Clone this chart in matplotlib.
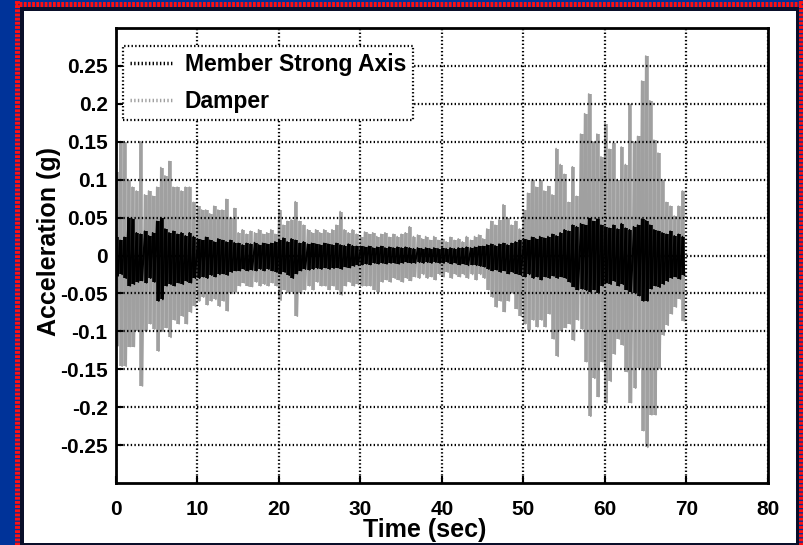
import matplotlib.pyplot as plt
import numpy as np
from matplotlib.lines import Line2D
from matplotlib.patches import Rectangle

plt.rcParams['font.family'] = ['Liberation Sans', 'DejaVu Sans']
plt.rcParams['font.weight'] = 'bold'
plt.rcParams['lines.scale_dashes'] = False

# bin start times (sec), one peak pair read per half second
time_bins = np.arange(0, 70, 0.5)

# Damper: upper / lower peaks in each half second bin (g)
damper_hi = [0.110, 0.150, 0.150, 0.100, 0.090, 0.085, 0.150, 0.080, 0.085, 0.078,
             0.090, 0.116, 0.105, 0.124, 0.090, 0.090, 0.085, 0.090, 0.090, 0.070,
             0.065, 0.060, 0.060, 0.055, 0.065, 0.060, 0.060, 0.074, 0.050, 0.062,
             0.030, 0.034, 0.028, 0.032, 0.030, 0.034, 0.028, 0.030, 0.034, 0.028,
             0.060, 0.040, 0.045, 0.047, 0.071, 0.045, 0.040, 0.034, 0.030, 0.034,
             0.030, 0.034, 0.030, 0.034, 0.040, 0.058, 0.034, 0.030, 0.034, 0.028,
             0.025, 0.031, 0.028, 0.030, 0.025, 0.028, 0.030, 0.024, 0.028, 0.025,
             0.028, 0.030, 0.038, 0.025, 0.027, 0.022, 0.025, 0.020, 0.025, 0.020,
             0.022, 0.018, 0.024, 0.020, 0.022, 0.018, 0.025, 0.020, 0.025, 0.027,
             0.022, 0.035, 0.045, 0.040, 0.047, 0.067, 0.050, 0.040, 0.045, 0.035,
             0.060, 0.082, 0.100, 0.090, 0.100, 0.085, 0.091, 0.080, 0.141, 0.120,
             0.107, 0.070, 0.117, 0.078, 0.160, 0.187, 0.213, 0.150, 0.160, 0.130,
             0.174, 0.140, 0.148, 0.100, 0.143, 0.120, 0.200, 0.150, 0.157, 0.230,
             0.263, 0.204, 0.152, 0.135, 0.100, 0.070, 0.065, 0.052, 0.065, 0.085]
damper_lo = [-0.119, -0.146, -0.146, -0.120, -0.120, -0.100, -0.172, -0.100, -0.090, -0.097,
             -0.126, -0.100, -0.095, -0.108, -0.085, -0.090, -0.080, -0.090, -0.075, -0.067,
             -0.060, -0.055, -0.065, -0.060, -0.058, -0.067, -0.060, -0.073, -0.050, -0.048,
             -0.040, -0.036, -0.040, -0.041, -0.035, -0.040, -0.038, -0.040, -0.036, -0.040,
             -0.059, -0.045, -0.050, -0.048, -0.080, -0.050, -0.045, -0.040, -0.045, -0.035,
             -0.040, -0.040, -0.045, -0.040, -0.045, -0.052, -0.040, -0.035, -0.040, -0.038,
             -0.040, -0.040, -0.040, -0.045, -0.048, -0.035, -0.032, -0.035, -0.030, -0.032,
             -0.035, -0.030, -0.033, -0.028, -0.030, -0.025, -0.030, -0.028, -0.032, -0.025,
             -0.028, -0.022, -0.030, -0.025, -0.028, -0.025, -0.030, -0.025, -0.032, -0.025,
             -0.030, -0.045, -0.055, -0.068, -0.060, -0.074, -0.060, -0.050, -0.070, -0.080,
             -0.090, -0.098, -0.085, -0.094, -0.085, -0.094, -0.077, -0.110, -0.133, -0.100,
             -0.095, -0.090, -0.112, -0.085, -0.097, -0.140, -0.212, -0.162, -0.186, -0.140,
             -0.194, -0.166, -0.130, -0.110, -0.118, -0.153, -0.194, -0.175, -0.149, -0.231,
             -0.253, -0.210, -0.210, -0.149, -0.105, -0.092, -0.077, -0.068, -0.057, -0.086]

# Member strong axis: upper / lower peaks (g)
member_hi = [0.025, 0.020, 0.024, 0.050, 0.048, 0.030, 0.028, 0.032, 0.026, 0.030,
             0.045, 0.050, 0.035, 0.030, 0.032, 0.028, 0.030, 0.026, 0.030, 0.025,
             0.022, 0.020, 0.024, 0.020, 0.018, 0.022, 0.020, 0.018, 0.020, 0.017,
             0.016, 0.014, 0.016, 0.015, 0.017, 0.014, 0.016, 0.015, 0.016, 0.018,
             0.020, 0.023, 0.018, 0.022, 0.020, 0.016, 0.018, 0.015, 0.016, 0.015,
             0.014, 0.016, 0.015, 0.014, 0.016, 0.014, 0.013, 0.015, 0.013, 0.012,
             0.012, 0.011, 0.012, 0.010, 0.011, 0.012, 0.010, 0.011, 0.010, 0.011,
             0.010, 0.011, 0.010, 0.009, 0.010, 0.009, 0.010, 0.009, 0.010, 0.009,
             0.010, 0.009, 0.010, 0.009, 0.010, 0.010, 0.011, 0.010, 0.011, 0.012,
             0.012, 0.014, 0.015, 0.013, 0.015, 0.016, 0.014, 0.016, 0.018, 0.020,
             0.022, 0.020, 0.024, 0.022, 0.025, 0.023, 0.025, 0.028, 0.026, 0.030,
             0.034, 0.032, 0.040, 0.038, 0.042, 0.040, 0.049, 0.045, 0.048, 0.040,
             0.038, 0.036, 0.040, 0.035, 0.042, 0.036, 0.034, 0.038, 0.040, 0.048,
             0.046, 0.040, 0.034, 0.032, 0.030, 0.028, 0.032, 0.026, 0.028, 0.025]
member_lo = [-0.027, -0.025, -0.030, -0.040, -0.038, -0.035, -0.033, -0.036, -0.030, -0.035,
             -0.060, -0.058, -0.040, -0.038, -0.040, -0.036, -0.038, -0.034, -0.036, -0.030,
             -0.030, -0.028, -0.030, -0.026, -0.028, -0.025, -0.024, -0.026, -0.022, -0.020,
             -0.020, -0.018, -0.020, -0.019, -0.020, -0.018, -0.020, -0.018, -0.020, -0.022,
             -0.024, -0.022, -0.026, -0.030, -0.024, -0.020, -0.018, -0.019, -0.018, -0.017,
             -0.018, -0.016, -0.018, -0.017, -0.016, -0.018, -0.015, -0.016, -0.014, -0.013,
             -0.012, -0.011, -0.012, -0.010, -0.011, -0.010, -0.011, -0.010, -0.010, -0.011,
             -0.010, -0.009, -0.010, -0.010, -0.009, -0.010, -0.009, -0.010, -0.009, -0.010,
             -0.010, -0.009, -0.011, -0.010, -0.012, -0.011, -0.013, -0.012, -0.013, -0.014,
             -0.015, -0.018, -0.020, -0.019, -0.022, -0.020, -0.024, -0.022, -0.024, -0.026,
             -0.028, -0.025, -0.030, -0.028, -0.032, -0.028, -0.030, -0.027, -0.030, -0.028,
             -0.030, -0.035, -0.041, -0.045, -0.044, -0.046, -0.048, -0.045, -0.049, -0.040,
             -0.036, -0.038, -0.034, -0.040, -0.038, -0.045, -0.048, -0.050, -0.053, -0.060,
             -0.060, -0.044, -0.040, -0.042, -0.038, -0.034, -0.030, -0.028, -0.031, -0.026]

x_ticks = [0, 10, 20, 30, 40, 50, 60, 70, 80]
y_ticks = [-0.25, -0.2, -0.15, -0.1, -0.05, 0, 0.05, 0.1, 0.15, 0.2, 0.25]
y_tick_labels = ['-0.25', '-0.2', '-0.15', '-0.1', '-0.05', '0', '0.05', '0.1', '0.15', '0.2', '0.25']


def zigzag(hi, lo):
    # peak then trough within each bin
    t = np.column_stack([time_bins, time_bins + 0.25]).ravel()
    y = np.column_stack([hi, lo]).ravel()
    return t, y


W, H = 804, 545
fig = plt.figure(figsize=(W / 100, H / 100), dpi=100)
fig.patch.set_facecolor('#003399')

# slide frame: dark edge, white panel, red dashed borders
fig.patches.append(Rectangle((20 / W, 0), 779 / W, 538 / H, transform=fig.transFigure,
                             facecolor='#0a0f2a', edgecolor='none', zorder=-3))
fig.patches.append(Rectangle((24 / W, 2 / H), 772 / W, 532 / H, transform=fig.transFigure,
                             facecolor='white', edgecolor='none', zorder=-2))
for xs, ys in [([15 / W, 1], [1 - 3.5 / H, 1 - 3.5 / H]),
               ([17 / W, 17 / W], [0, 1]),
               ([801.5 / W, 801.5 / W], [0, 1])]:
    fig.lines.append(Line2D(xs, ys, transform=fig.transFigure, color='#ff1010',
                            lw=3.6, dashes=(2.0, 1.0), zorder=-1))

ax = fig.add_axes([116 / W, 1 - 483 / H, 652 / W, 455 / H])

# dense record drawn as peak/trough strokes plus the swing of each bin
t_d, y_d = zigzag(damper_hi, damper_lo)
t_m, y_m = zigzag(member_hi, member_lo)
ax.vlines(time_bins + 0.125, damper_lo, damper_hi, color='#a0a0a0', lw=2.6)
ax.plot(t_d, y_d, color='#a0a0a0', lw=1.2)
ax.vlines(time_bins + 0.125, member_lo, member_hi, color='black', lw=2.6)
ax.plot(t_m, y_m, color='black', lw=1.2)

ax.set_xlim(0, 80)
ax.set_ylim(-0.3, 0.3)
ax.set_xticks(x_ticks)
ax.set_xticklabels([str(v) for v in x_ticks])
ax.set_yticks(y_ticks)
ax.set_yticklabels(y_tick_labels)
ax.tick_params(direction='in', length=5, width=1.5, labelsize=15, pad=6)
ax.tick_params(axis='x', pad=12)
# grid sits over the traces like in the original
ax.set_axisbelow(False)
ax.grid(True, color='black', linestyle=':', linewidth=1.6)
for s in ax.spines.values():
    s.set_linewidth(2)

ax.set_xlabel('Time (sec)', fontsize=18, fontweight='bold')
ax.set_ylabel('Acceleration (g)', fontsize=18, fontweight='bold')
ax.xaxis.set_label_coords(0.474, -0.076)
ax.yaxis.set_label_coords(-0.084, 0.53)

handles = [Line2D([], [], color='black', ls=':', lw=2.5),
           Line2D([], [], color='#a0a0a0', ls=':', lw=2.5)]
leg = ax.legend(handles, ['Member Strong Axis', 'Damper'], loc='upper left',
                bbox_to_anchor=(7 / 652, (483 - 46) / 455), borderaxespad=0,
                fancybox=False, framealpha=1, edgecolor='black',
                prop={'size': 16.5, 'weight': 'bold'},
                handlelength=1.9, handletextpad=0.5, labelspacing=0.62, borderpad=0.3)
leg.get_frame().set_linestyle(':')
leg.get_frame().set_linewidth(1.6)

plt.savefig('out.png', dpi=100, facecolor=fig.get_facecolor())
